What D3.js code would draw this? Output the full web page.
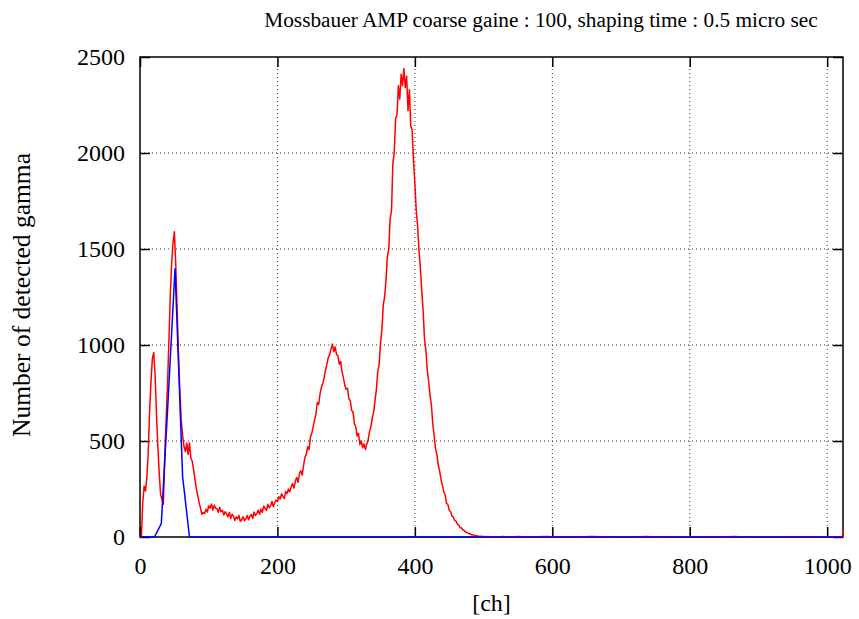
<!DOCTYPE html>
<html><head><meta charset="utf-8">
<script src="https://cdn.jsdelivr.net/npm/d3@7"></script>
<style>
html,body{margin:0;padding:0;background:#fff;}
text{font-family:"Liberation Serif","Times New Roman",serif;fill:#000;}
</style></head>
<body><svg id="c" width="859" height="619"></svg>
<script>
const title = "Mossbauer AMP coarse gaine : 100, shaping time : 0.5 micro sec";
const xLabel = "[ch]";
const yLabel = "Number of detected gamma";
const xTicks = [0, 200, 400, 600, 800, 1000];
const yTicks = [0, 500, 1000, 1500, 2000, 2500];

// red spectrum: counts every 2 channels from ch 0 to ch 520 (20 values = 40 channels per row)
const redCounts = [
0,0,180,265,240,310,440,660,810,930,960,840,640,470,330,220,195,170,420,610,
790,1010,1250,1420,1530,1590,1420,1190,950,760,610,530,470,445,490,430,490,410,395,350,
300,250,215,180,150,118,128,122,145,130,162,150,172,140,165,150,148,128,155,132,
138,115,132,120,105,128,96,118,110,86,104,95,112,82,90,106,85,95,112,90,
108,118,96,130,112,122,140,118,146,128,160,150,138,170,152,162,185,158,178,192,
185,210,198,225,212,200,238,226,250,235,262,278,255,290,310,285,330,345,322,372,
415,430,470,455,520,540,575,610,640,700,690,745,780,800,830,870,900,935,950,980,
1005,965,990,950,945,900,915,860,830,790,770,775,720,710,660,650,590,575,525,540,
480,500,465,485,455,485,505,550,575,620,650,710,770,860,900,1010,1080,1210,1250,1340,
1460,1500,1660,1700,1950,2000,2180,2200,2350,2280,2410,2350,2440,2340,2400,2220,2330,2140,2120,1960,
1840,1700,1620,1490,1400,1280,1180,1030,975,870,810,740,690,590,530,460,430,375,345,300,
270,235,220,175,170,140,132,108,104,85,82,66,62,48,47,36,34,25,24,18,
17,12,12,8,8,5,5,3,4,2,3,1,2,1,2,0,1,0,2,0,
0
];
// red tail beyond ch 520
const redTailCh = [528,536,544,552,560,576,592,608,624,640,656,672,688,704,720,736,752,768,784,800,
816,832,848,864,880,896,912,928,944,960,976,992,1008,1022,1023];
const redTailCounts = [2,0,1,3,0,1,2,0,1,0,2,1,0,1,0,2,0,1,0,1,
0,1,0,2,0,1,0,0,1,0,1,0,1,0,35];

// blue spectrum (coarse sampling)
const blueCh = [0,10,21,31,41,51,62,72,1023];
const blueCounts = [0,0,0,70,720,1400,315,0,0];

const svg = d3.select("#c");
const m = {l:140, r:843, t:57, b:537};
const x = d3.scaleLinear().domain([0, 1023]).range([m.l, m.r]);
const y = d3.scaleLinear().domain([0, 2500]).range([m.b, m.t]);

// grid
svg.append("g").selectAll("line").data(xTicks.filter(d => d > 0)).join("line")
  .attr("x1", d => x(d)).attr("x2", d => x(d)).attr("y1", m.t).attr("y2", m.b)
  .attr("stroke", "#333").attr("stroke-width", 1).attr("stroke-dasharray", "1,3");
svg.append("g").selectAll("line").data(yTicks.filter(d => d > 0 && d < 2500)).join("line")
  .attr("x1", m.l).attr("x2", m.r).attr("y1", d => y(d)).attr("y2", d => y(d))
  .attr("stroke", "#333").attr("stroke-width", 1).attr("stroke-dasharray", "1,3");

// axes (ticks inward, labels)
const ax = svg.append("g").attr("transform", `translate(0,${m.b})`)
  .call(d3.axisBottom(x).tickValues(xTicks).tickSize(-10).tickPadding(20).tickFormat(d3.format("d")));
const axT = svg.append("g").attr("transform", `translate(0,${m.t})`)
  .call(d3.axisTop(x).tickValues(xTicks).tickSize(-10).tickFormat(""));
const ay = svg.append("g").attr("transform", `translate(${m.l},0)`)
  .call(d3.axisLeft(y).tickValues(yTicks).tickSize(-10).tickPadding(15).tickFormat(d3.format("d")));
const ayR = svg.append("g").attr("transform", `translate(${m.r},0)`)
  .call(d3.axisRight(y).tickValues(yTicks).tickSize(-10).tickFormat(""));
[ax, axT, ay, ayR].forEach(g => {
  g.select(".domain").remove();
  g.selectAll(".tick line").attr("stroke", "#000").attr("stroke-width", 1.5);
  g.selectAll("text").attr("font-size", 24).attr("font-family", "Liberation Serif");
});

// border
svg.append("rect").attr("x", m.l).attr("y", m.t).attr("width", m.r - m.l).attr("height", m.b - m.t)
  .attr("fill", "none").attr("stroke", "#000").attr("stroke-width", 1.5);

// data
const redPts = redCounts.map((v, i) => [i * 2, v]).concat(redTailCh.map((c, i) => [c, redTailCounts[i]]));
const line = d3.line().x(d => x(d[0])).y(d => y(d[1]));
svg.append("path").datum(redPts).attr("d", line).attr("fill", "none")
  .attr("stroke", "#ff0000").attr("stroke-width", 1.5).attr("stroke-linejoin", "round");
const bluePts = blueCh.map((c, i) => [c, blueCounts[i]]);
svg.append("path").datum(bluePts).attr("d", line).attr("fill", "none")
  .attr("stroke", "#0000ff").attr("stroke-width", 1.5);

// labels
svg.append("text").attr("x", 541).attr("y", 27).attr("text-anchor", "middle")
  .attr("font-size", 21.3).text(title);
svg.append("text").attr("x", (m.l + m.r) / 2).attr("y", 611).attr("text-anchor", "middle")
  .attr("font-size", 24).text(xLabel);
svg.append("text").attr("transform", `translate(30,${(m.t + m.b) / 2 - 2}) rotate(-90)`)
  .attr("text-anchor", "middle").attr("font-size", 25.5).text(yLabel);
</script></body></html>
